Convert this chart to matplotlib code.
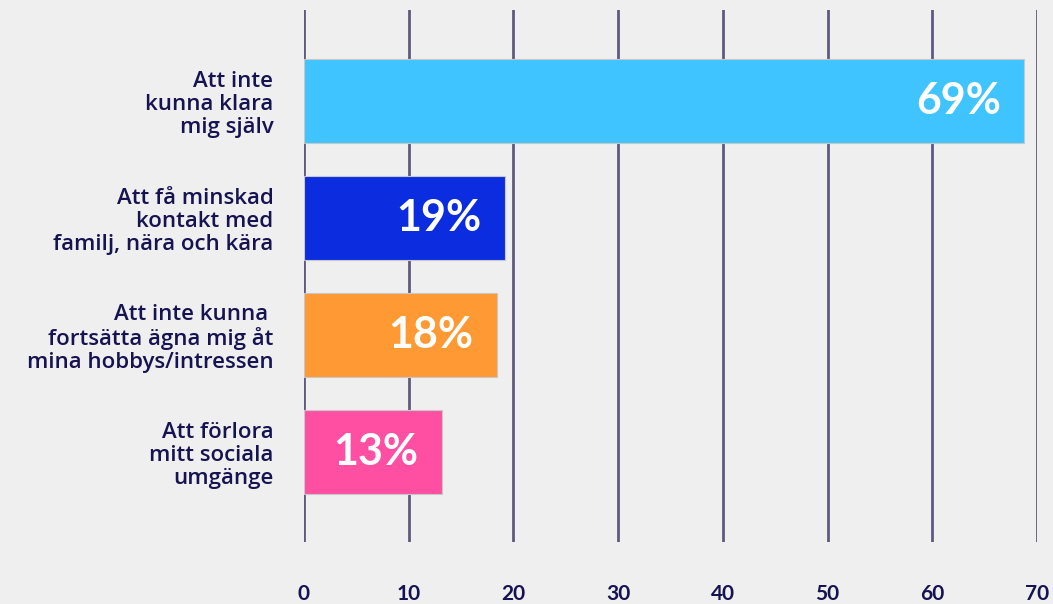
import matplotlib
matplotlib.use("Agg")
import matplotlib.pyplot as plt

categories = ["Att inte\nkunna klara\nmig själv",
              "Att få minskad\nkontakt med\nfamilj, nära och kära",
              "Att inte kunna \nfortsätta ägna mig åt\nmina hobbys/intressen",
              "Att förlora\nmitt sociala\numgänge"]
values = [68.8, 19.2, 18.4, 13.2]
value_labels = ["69%", "19%", "18%", "13%"]
colors = ["#40C4FF", "#0B2DDF", "#FF9933", "#FF4FA3"]
xticks = [0, 10, 20, 30, 40, 50, 60, 70]

bg = "#EFEFEF"
navy = "#151350"
grid = "#5E5A7E"

fig = plt.figure(figsize=(10.53, 6.04), dpi=100, facecolor=bg)
ax = fig.add_axes([304/1053, 1-542/604, (1037-304)/1053, 532/604])
ax.set_facecolor(bg)

ypos = list(range(len(categories)))
ax.set_xlim(0, 70)
ax.set_ylim(3.769, -0.778)
ax.set_xticks(xticks)
ax.grid(axis="x", color=grid, linewidth=2, zorder=0)
ax.set_axisbelow(True)
bars = ax.barh(ypos, values, height=0.72, color=colors, edgecolor="#C8C8C8", linewidth=0.8, zorder=2)

for b, lab in zip(bars, value_labels):
    ax.annotate(lab, xy=(b.get_width(), b.get_y() + b.get_height()/2),
                xytext=(-17, 0), textcoords="offset points", ha="right", va="center",
                color="white", fontsize=31, fontweight="bold", family="Lato", zorder=3)

ax.set_yticks(ypos)
ax.set_yticklabels(categories, fontsize=16, color=navy, family="Open Sans", fontweight="semibold",
                   linespacing=1.12, ha="right")
ax.tick_params(axis="y", length=0, pad=22)
ax.tick_params(axis="x", length=0, pad=30, labelsize=15, labelcolor=navy)
for t in ax.get_xticklabels():
    t.set_family("Lato")
    t.set_fontweight("bold")
for s in ax.spines.values():
    s.set_visible(False)

fig.savefig("out.png", dpi=100, facecolor=bg)
